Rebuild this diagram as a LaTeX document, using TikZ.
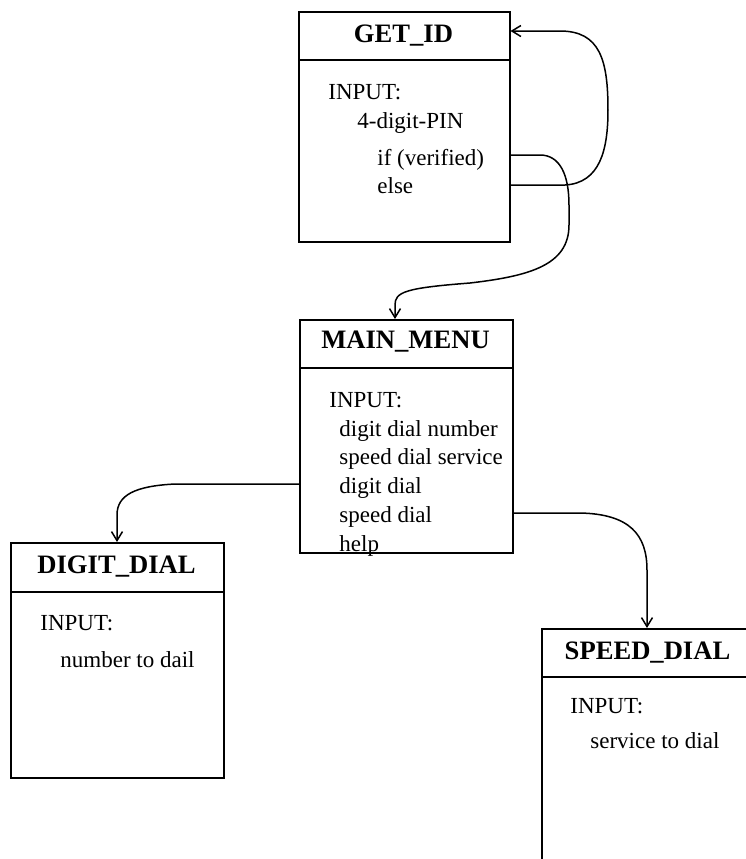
\documentclass[tikz,border=0pt]{standalone}
\usepackage{fontspec}
\setmainfont{Liberation Serif}
\usetikzlibrary{arrows.meta}
\begin{document}
\begin{tikzpicture}[x=0.5pt,y=-0.5pt,
  statebox/.style={draw, line width=0.75pt, rectangle, inner sep=0pt, anchor=north west},
  headrule/.style={line width=0.75pt},
  title/.style={font=\fontsize{13.3}{16}\selectfont\bfseries, inner sep=0pt, anchor=base},
  field/.style={font=\fontsize{11.5}{14}\selectfont, inner sep=0pt, anchor=base west},
  link/.style={line width=0.75pt, -{Straight Barb[length=4.5pt,width=5.5pt]}}]

\clip (0,0) rectangle (746,859);

% ---- GET_ID ----
\node[statebox, minimum width=105.5pt, minimum height=115pt] (getid) at (298,11) {};
\draw[headrule] ([yshift=-24.5pt]getid.north west) -- ([yshift=-24.5pt]getid.north east);
\node[title] (getidT) at (403.5,42) {GET\_ID};
\node[field] (getidIn) at (328,99) {INPUT:};
\node[field] (pin) at (357,128) {4-digit-PIN};
\node[field] (verified) at (377,165) {if (verified)};
\node[field] (elsebr) at (377,193) {else};

% ---- MAIN_MENU ----
\node[statebox, minimum width=106.5pt, minimum height=116.5pt] (mainmenu) at (299,319) {};
\draw[headrule] ([yshift=-24.5pt]mainmenu.north west) -- ([yshift=-24.5pt]mainmenu.north east);
\node[title] (mainmenuT) at (405.5,348) {MAIN\_MENU};
\node[field] (mainIn) at (329,407) {INPUT:};
\node[field] (mA) at (339,436) {digit dial number};
\node[field] (mB) at (339,464) {speed dial service};
\node[field] (mC) at (339,493) {digit dial};
\node[field] (mD) at (339,522) {speed dial};
\node[field] (mE) at (339,551) {help};

% ---- DIGIT_DIAL ----
\node[statebox, minimum width=106.5pt, minimum height=117.5pt] (digitdial) at (10,542) {};
\draw[headrule] ([yshift=-25pt]digitdial.north west) -- ([yshift=-25pt]digitdial.north east);
\node[title] (digitdialT) at (116.5,573) {DIGIT\_DIAL};
\node[field] (digitIn) at (40,630) {INPUT:};
\node[field] (digitNum) at (60,667) {number to dail};

% ---- SPEED_DIAL ----
\node[statebox, minimum width=106.5pt, minimum height=130pt] (speeddial) at (541,628) {};
\draw[headrule] ([yshift=-24.5pt]speeddial.north west) -- ([yshift=-24.5pt]speeddial.north east);
\node[title] (speeddialT) at (647.5,659) {SPEED\_DIAL};
\node[field] (speedIn) at (570,713) {INPUT:};
\node[field] (speedSvc) at (590,748) {service to dial};

% ---- transitions ----
% verified: GET_ID -> MAIN_MENU
\draw[link] ([yshift=-72pt]getid.north east) -- (540,155)
  .. controls (560,155) and (569,175) .. (569,205) -- (569,225)
  .. controls (569,265) and (530,276) .. (470,283)
  .. controls (405,288) and (395,292) .. (395,305)
  -- ([xshift=48pt]mainmenu.north west);
% else: back to GET_ID
\draw[link] ([yshift=-87pt]getid.north east) -- (565,185)
  .. controls (600,183) and (608,150) .. (608,110)
  .. controls (608,60) and (600,31) .. (560,31)
  -- ([yshift=-10pt]getid.north east);
% digit dial
\draw[link] ([yshift=-82.5pt]mainmenu.north west) -- (175,484)
  .. controls (135,486) and (117,495) .. (117,515)
  -- ([xshift=53.5pt]digitdial.north west);
% speed dial
\draw[link] ([yshift=-97pt]mainmenu.north east) -- (580,513)
  .. controls (630,514) and (647,535) .. (647,570)
  -- ([xshift=53pt]speeddial.north west);
\end{tikzpicture}
\end{document}
